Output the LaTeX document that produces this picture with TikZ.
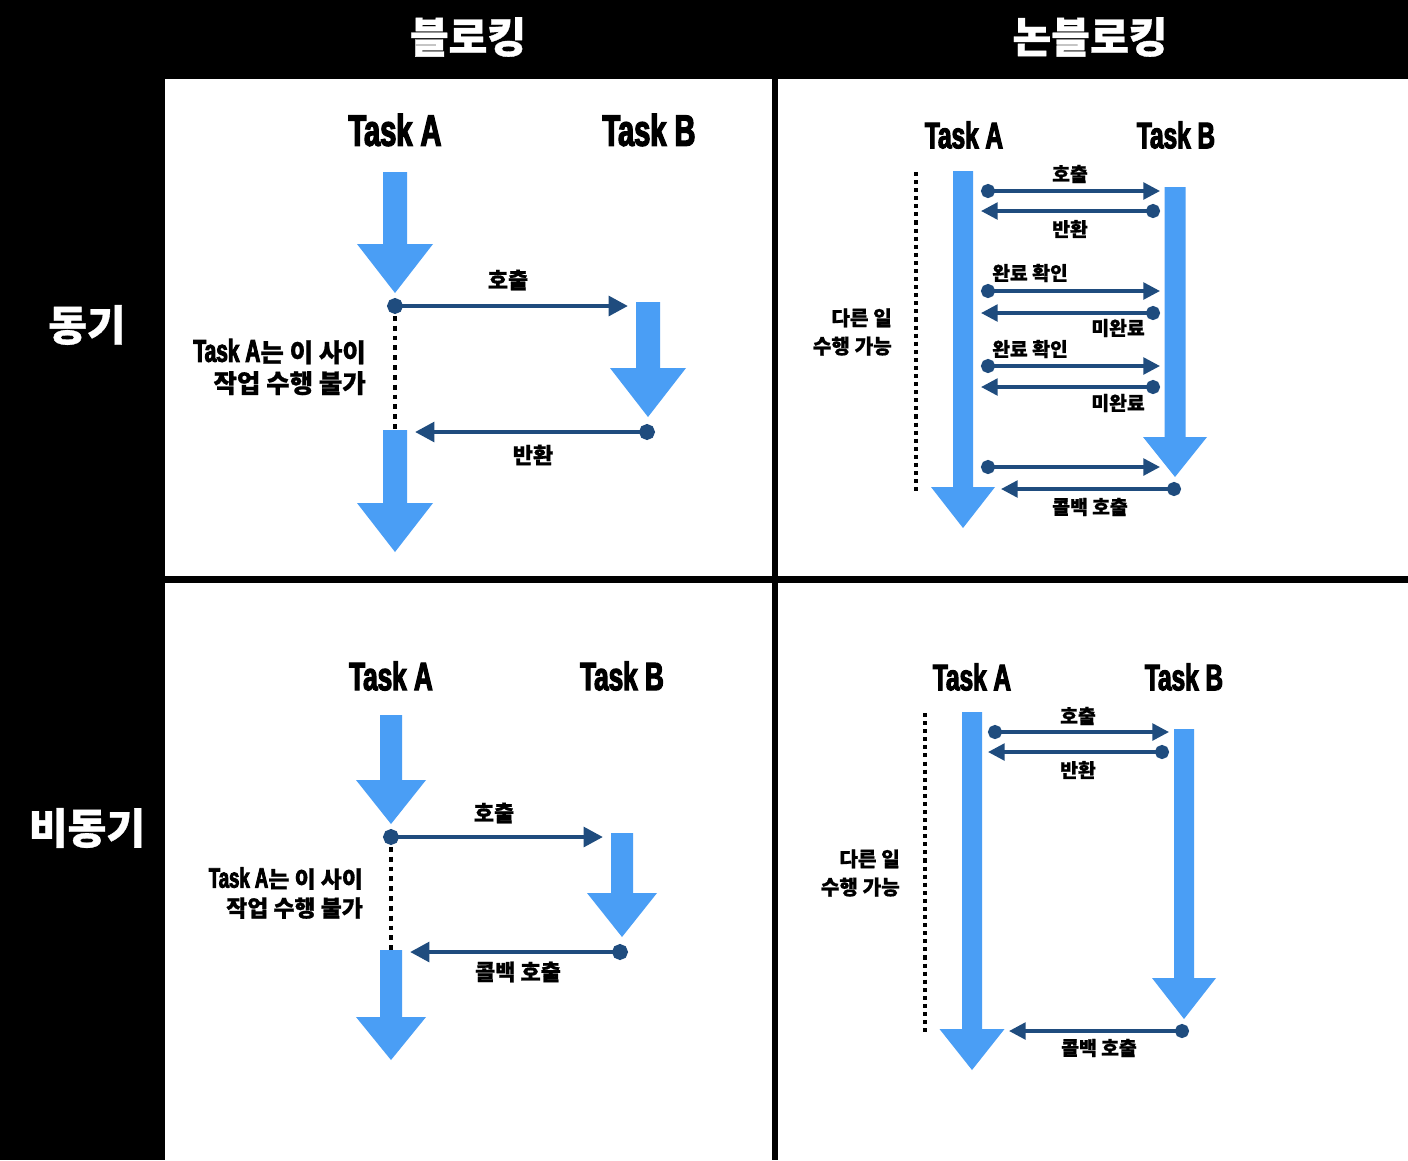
\documentclass[tikz,border=0pt]{standalone}
\usepackage{fontspec}
\setmainfont{Noto Sans CJK KR}[BoldFeatures={FakeBold=0.8}]
\newfontfamily\taskfont{Liberation Sans}[FakeStretch=0.66,FakeBold=3]
\usetikzlibrary{arrows.meta}
\definecolor{laneblue}{RGB}{74,158,245}
\definecolor{msgblue}{RGB}{31,76,126}
% big blue lifeline arrow: centre x, top, head base, tip, half shaft, half head
\newcommand\lanearrow[6]{%
  \fill[laneblue] (#1-#5,#2) -- (#1+#5,#2) -- (#1+#5,#3) -- (#1+#6,#3)
    -- (#1,#4) -- (#1-#6,#3) -- (#1-#5,#3) -- cycle;}
\tikzset{
  hdr/.style={text=white,font=\bfseries\fontsize{24}{26}\selectfont},
  task/.style={font=\taskfont\bfseries\fontsize{21}{23}\selectfont},
  bigtask/.style={font=\taskfont\bfseries\fontsize{25}{28}\selectfont},
  lbl/.style={font=\bfseries\fontsize{12.5}{14}\selectfont},
  smlbl/.style={font=\bfseries\fontsize{11}{13}\selectfont},
  msg/.style={draw=msgblue,line width=2.6pt,
    {Circle[length=9pt]}-{Triangle[length=11pt,width=11pt]},shorten <=-4.5pt},
  smmsg/.style={draw=msgblue,line width=2pt,
    {Circle[length=8pt]}-{Triangle[length=9.5pt,width=9.5pt]},shorten <=-4pt},
  wait/.style={draw=black,line width=2.2pt,dash pattern=on 2.8pt off 2.8pt},
  smwait/.style={draw=black,line width=2pt,dash pattern=on 2.3pt off 2.3pt}
}
\begin{document}
\begin{tikzpicture}[x=0.02cm,y=-0.02cm]
  % grid of four panels
  \fill[black] (0,0) rectangle (1408,1160);
  \fill[white] (165,79) rectangle (772,576);
  \fill[white] (778,79) rectangle (1408,576);
  \fill[white] (165,583) rectangle (772,1160);
  \fill[white] (778,583) rectangle (1408,1160);
  \node[hdr] (blocking) at (468,37) {블로킹};
  \node[hdr] (nonblocking) at (1090,37) {논블로킹};
  \node[hdr] (sync) at (87,325) {동기};
  \node[hdr] (async) at (87,828) {비동기};

  % blocking + sync
  \node[bigtask] (tlA) at (395,130) {Task A};
  \node[bigtask] (tlB) at (649,130) {Task B};
  \lanearrow{395}{172}{244}{293}{12}{38}
  \lanearrow{648}{302}{368}{417}{12}{38}
  \lanearrow{395}{430}{503}{552}{12}{38}
  \coordinate (tlcall) at (395,306); \coordinate (tlcallB) at (628,306);
  \coordinate (tlret) at (647,432); \coordinate (tlretA) at (415,432);
  \coordinate (tlwait) at (395,430);
  \draw[wait] (tlcall) -- (tlwait);
  \draw[msg] (tlcall) -- (tlcallB);
  \draw[msg] (tlret) -- (tlretA);
  \node[lbl] (tlcalltxt) at (508,280) {호출};
  \node[lbl] (tlrettxt) at (533,455) {반환};
  \node[font=\bfseries\fontsize{14.5}{17.6}\selectfont,align=right,anchor=east] (tlnote) at (372,367)
    {{\taskfont\fontsize{18}{17.6}\selectfont Task A}는 이 사이\\작업 수행 불가};

  % nonblocking + sync
  \node[task] (trA) at (964,135) {Task A};
  \node[task] (trB) at (1176,135) {Task B};
  \lanearrow{963}{171}{487}{528}{10}{32}
  \lanearrow{1175}{187}{437}{477}{10.5}{32}
  \coordinate (trw1) at (916,172); \coordinate (trw2) at (916,494);
  \draw[smwait] (trw1) -- (trw2);
  \foreach \i/\y in {1/191,2/291,3/366,4/467}{
    \coordinate (trc\i) at (988,\y); \coordinate (trcB\i) at (1160,\y);
    \draw[smmsg] (trc\i) -- (trcB\i);
  }
  \foreach \i/\y in {1/211,2/313,3/387}{
    \coordinate (trr\i) at (1153,\y); \coordinate (trrA\i) at (981,\y);
    \draw[smmsg] (trr\i) -- (trrA\i);
  }
  \coordinate (trcb) at (1174,489); \coordinate (trcbA) at (1001,489);
  \draw[smmsg] (trcb) -- (trcbA);
  \node[smlbl] (trcalltxt) at (1070,174) {호출};
  \node[smlbl] (trrettxt) at (1070,229) {반환};
  \node[smlbl] (trchk1) at (1030,273) {완료 확인};
  \node[smlbl] (trnot1) at (1118,328) {미완료};
  \node[smlbl] (trchk2) at (1030,349) {완료 확인};
  \node[smlbl] (trnot2) at (1118,403) {미완료};
  \node[smlbl] (trcbtxt) at (1090,507) {콜백 호출};
  \node[align=right,anchor=east,font=\bfseries\fontsize{11.5}{16}\selectfont] (trnote) at (898,332)
    {다른 일\\수행 가능};

  % blocking + async
  \node[task,font=\taskfont\bfseries\fontsize{22.5}{24}\selectfont] (blA) at (391,676) {Task A};
  \node[task,font=\taskfont\bfseries\fontsize{22.5}{24}\selectfont] (blB) at (622,676) {Task B};
  \lanearrow{391}{715}{780}{824}{11}{35}
  \lanearrow{622}{833}{893}{937}{11}{35}
  \lanearrow{391}{950}{1017}{1060}{11}{35}
  \coordinate (blcall) at (391,837); \coordinate (blcallB) at (603,837);
  \coordinate (blret) at (620,952); \coordinate (blretA) at (410,952);
  \coordinate (blwait) at (391,950);
  \draw[wait] (blcall) -- (blwait);
  \draw[msg] (blcall) -- (blcallB);
  \draw[msg] (blret) -- (blretA);
  \node[lbl] (blcalltxt) at (494,813) {호출};
  \node[lbl] (blcbtxt) at (518,972) {콜백 호출};
  \node[font=\bfseries\fontsize{13}{16.5}\selectfont,align=right,anchor=east] (blnote) at (369,893)
    {{\taskfont\fontsize{16}{16.5}\selectfont Task A}는 이 사이\\작업 수행 불가};

  % nonblocking + async
  \node[task] (brA) at (972,677) {Task A};
  \node[task] (brB) at (1184,677) {Task B};
  \lanearrow{972}{712}{1029}{1070}{10}{32.5}
  \lanearrow{1184}{729}{978}{1019}{10}{32}
  \coordinate (brw1) at (925,713); \coordinate (brw2) at (925,1036);
  \draw[smwait] (brw1) -- (brw2);
  \coordinate (brcall) at (995,732); \coordinate (brcallB) at (1169,732);
  \coordinate (brret) at (1162,752); \coordinate (brretA) at (988,752);
  \coordinate (brcb) at (1182,1031); \coordinate (brcbA) at (1009,1031);
  \draw[smmsg] (brcall) -- (brcallB);
  \draw[smmsg] (brret) -- (brretA);
  \draw[smmsg] (brcb) -- (brcbA);
  \node[smlbl] (brcalltxt) at (1078,716) {호출};
  \node[smlbl] (brrettxt) at (1078,770) {반환};
  \node[smlbl] (brcbtxt) at (1099,1048) {콜백 호출};
  \node[align=right,anchor=east,font=\bfseries\fontsize{11.5}{16}\selectfont] (brnote) at (906,873)
    {다른 일\\수행 가능};
\end{tikzpicture}
\end{document}
